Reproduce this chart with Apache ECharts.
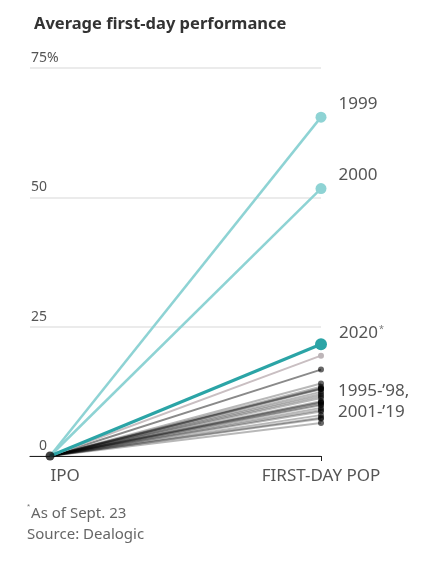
<!DOCTYPE html>
<html>
<head>
<meta charset="utf-8">
<script src="https://cdn.jsdelivr.net/npm/echarts@6/dist/echarts.min.js"></script>
<style>
  html, body { margin: 0; padding: 0; background: #fff; }
  #chart { width: 440px; height: 573px; }
</style>
</head>
<body>
<div id="chart"></div>
<script>
// points on the x axis
const stages = ['IPO', 'FIRST-DAY POP']
const yTicks = [0, 25, 50, 75]

// average first-day pop, %
const highlightYears = ['1999', '2000', '2020']
const highlightPops = [65.5, 51.7, 21.6]

const otherYears = ['1995', '1996', '1997', '1998', '2001', '2002', '2003', '2004',
  '2005', '2006', '2007', '2008', '2009', '2010', '2011', '2012', '2013', '2014',
  '2015', '2016', '2017', '2018', '2019']
const otherPops = [13.1, 14.0, 11.2, 16.7, 10.3, 7.4, 9.8, 10.6, 8.6, 9.3, 12.0, 6.4,
  10.0, 7.9, 8.9, 11.6, 13.0, 12.4, 10.4, 7.2, 13.4, 12.9, 19.4]

const FONT = 'Noto Sans'
const chart = echarts.init(document.getElementById('chart'))

// gray years, faint lines with small dark end dots
const graySeries = otherYears.map((yr, i) => {
  const v = otherPops[i]
  let color = 'rgba(0,0,0,0.28)'
  if (v > 19) color = '#c9bfc2'
  else if (v > 16) color = '#8a8a8a'
  const s = {
    name: yr,
    type: 'line',
    data: [
      { value: [0, 0], symbolSize: 0 },
      { value: [1, v], symbolSize: 6, itemStyle: { color: v > 19 ? '#bdb5b8' : 'rgba(0,0,0,0.6)' } }
    ],
    symbol: 'circle',
    lineStyle: { color: color, width: 2 },
    itemStyle: { color: color },
    silent: true
  }
  // the grouped label sits next to the bundle
  if (yr === '2004') {
    s.data[1].label = {
      show: true, position: 'right', distance: 14, offset: [0, 0],
      formatter: "1995-’98,\n2001-’19",
      fontFamily: FONT, fontSize: 17, color: '#555', lineHeight: 21
    }
  }
  return s
})

const tealColors = ['#8ed3d4', '#8ed3d4', '#2ba4a6']
const hiSeries = highlightYears.map((yr, i) => {
  const is2020 = yr === '2020'
  return {
    name: yr,
    type: 'line',
    z: 5,
    data: [
      { value: [0, 0], symbolSize: 0 },
      {
        value: [1, highlightPops[i]],
        symbolSize: is2020 ? 12 : 11,
        label: {
          show: true, position: 'right', distance: 12,
          offset: [0, is2020 ? -11 : -13],
          formatter: is2020 ? yr + '{s|*}' : yr,
          fontFamily: FONT, fontSize: 17, color: '#555',
          rich: { s: { fontSize: 9, color: '#777', verticalAlign: 'top', padding: [0, 0, 8, 1] } }
        }
      }
    ],
    symbol: 'circle',
    lineStyle: { color: tealColors[i], width: is2020 ? 3 : 2.5 },
    itemStyle: { color: tealColors[i] },
    silent: true
  }
})

// black start dot at IPO
const startDot = {
  type: 'scatter',
  z: 10,
  data: [[0, 0]],
  symbolSize: 9,
  itemStyle: { color: '#111' },
  silent: true
}

chart.setOption({
  animation: false,
  grid: { left: 30, right: 119, top: 68, bottom: 117 },
  title: {
    text: 'Average first-day performance',
    left: 29, top: 11,
    textStyle: { fontFamily: FONT, fontSize: 16.5, fontWeight: 'bold', color: '#333' }
  },
  graphic: [
    {
      type: 'text', left: 27, top: 503,
      style: {
        text: '{s|*}As of Sept. 23\nSource: Dealogic',
        fontFamily: FONT, fontSize: 15, fill: '#666', lineHeight: 21,
        rich: { s: { fontSize: 8, fill: '#777', verticalAlign: 'top', padding: [0, 1, 6, 0] } }
      }
    }
  ],
  xAxis: {
    type: 'value',
    min: -0.074, max: 1,
    axisLine: { show: true, lineStyle: { color: '#222', width: 1.2 } },
    axisTick: { show: true, customValues: [1], length: 5, lineStyle: { color: '#222' } },
    splitLine: { show: false },
    axisLabel: {
      customValues: [0, 1],
      margin: 12,
      fontFamily: FONT, fontSize: 17, color: '#555',
      formatter: v => v === 0 ? '{l|' + stages[0] + '}' : stages[1],
      rich: { l: { fontFamily: FONT, fontSize: 17, color: '#555', padding: [0, 0, 0, 30] } }
    }
  },
  yAxis: {
    type: 'value',
    min: yTicks[0], max: yTicks[yTicks.length - 1], interval: 25,
    axisLine: { show: false },
    axisTick: { show: false },
    splitLine: { lineStyle: { color: '#e5e5e5', width: 1.5 } },
    axisLabel: {
      inside: true, margin: 1, align: 'left', verticalAlign: 'bottom',
      fontFamily: FONT, fontSize: 14, color: '#555',
      formatter: v => '{n|' + v + '}' + (v === 75 ? '%' : ''),
      rich: { n: { width: 16, align: 'right', fontFamily: FONT, fontSize: 14, color: '#555' } },
      padding: [0, 0, 3, 0]
    }
  },
  series: [...graySeries, ...hiSeries, startDot]
})
</script>
</body>
</html>
